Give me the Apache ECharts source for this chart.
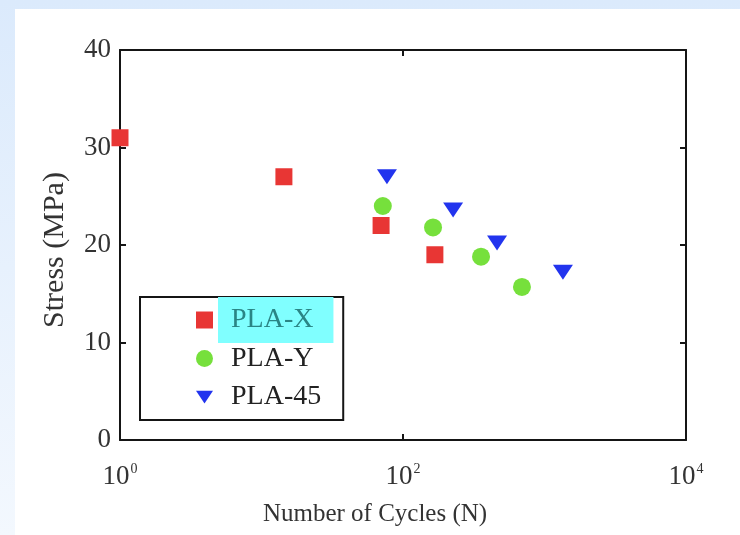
<!DOCTYPE html>
<html><head><meta charset="utf-8">
<script src="https://cdn.jsdelivr.net/npm/echarts@6/dist/echarts.min.js"></script>
<style>
html,body{margin:0;padding:0;}
body{width:740px;height:535px;position:relative;background:linear-gradient(to bottom,#dbeafc,#f3f8fe);overflow:hidden;}
#panel{position:absolute;left:15px;top:9px;right:0;bottom:0;background:#fff;}
#chart{position:absolute;left:0;top:0;width:740px;height:535px;}
</style></head>
<body><div id="panel"></div><div id="chart"></div>
<script>
const seriesNames = ['PLA-X', 'PLA-Y', 'PLA-45'];
const plaX = [[1, 31], [14.4, 27], [70, 22], [168, 19]];
const plaY = [[72, 24], [163, 21.8], [356, 18.8], [693, 15.7]];
const pla45 = [[77, 27], [226, 23.6], [462, 20.2], [1350, 17.2]];
const yTicks = [0, 10, 20, 30, 40];
const xTickExponents = [0, 2, 4];

const serif = '"Liberation Serif", "DejaVu Serif", serif';
const chart = echarts.init(document.getElementById('chart'), null, {renderer: 'canvas'});
const axisLine = {show: true, onZero: false, lineStyle: {color: '#151515', width: 2}};
const tick = {show: true, inside: true, length: 6, lineStyle: {color: '#151515', width: 2}};
const xLabel = {
  fontFamily: serif, color: '#333', margin: 22,
  formatter: v => '{b|10}{s|' + Math.round(Math.log10(v)) + '}',
  rich: {
    b: {fontFamily: serif, fontSize: 27, color: '#333'},
    s: {fontFamily: serif, fontSize: 14, color: '#333', verticalAlign: 'bottom', padding: [0, 0, 16, 1]}
  }
};
const xBase = {
  type: 'log', logBase: 10, min: Math.pow(10, xTickExponents[0]), max: Math.pow(10, xTickExponents[xTickExponents.length - 1]),
  interval: 2, axisLine: axisLine, axisTick: tick,
  splitLine: {show: false}, minorTick: {show: false}
};
const yBase = {
  type: 'value', min: yTicks[0], max: yTicks[yTicks.length - 1], interval: 10,
  axisLine: axisLine, axisTick: tick,
  splitLine: {show: false}
};
const legendRich = {
  n: {fontFamily: serif, fontSize: 28, color: '#222', lineHeight: 30, padding: [9, 20, 9, 13]},
  hl: {fontFamily: serif, fontSize: 28, color: '#2a8585', lineHeight: 30, padding: [9, 20, 9, 13], backgroundColor: '#80ffff'}
};
chart.setOption({
  animation: false,
  grid: {left: 120, top: 50, right: 54, bottom: 95, containLabel: false},
  xAxis: [
    Object.assign({}, xBase, {
      position: 'bottom', axisLabel: xLabel,
      name: 'Number of Cycles (N)', nameLocation: 'middle', nameGap: 62,
      nameTextStyle: {fontFamily: serif, fontSize: 25, color: '#333', padding: [0, 56, 0, 0]}
    }),
    Object.assign({}, xBase, {position: 'top', axisLabel: {show: false}})
  ],
  yAxis: [
    Object.assign({}, yBase, {
      position: 'left',
      axisLabel: {fontFamily: serif, fontSize: 27, color: '#333', margin: 9},
      name: 'Stress (MPa)', nameLocation: 'middle', nameGap: 50,
      nameTextStyle: {fontFamily: serif, fontSize: 30, color: '#333', padding: [0, 10, 0, 0]}
    }),
    Object.assign({}, yBase, {position: 'right', axisLabel: {show: false}})
  ],
  legend: {
    orient: 'vertical', left: 140, top: 297,
    padding: [0, 2, 0, 56], itemGap: -7.5,
    itemWidth: 17, itemHeight: 17, itemTextGap: 7,
    borderColor: '#151515', borderWidth: 2, backgroundColor: '#fff',
    data: seriesNames,
    formatter: name => (name === seriesNames[0] ? '{hl|' : '{n|') + name + '}',
    textStyle: {rich: legendRich}
  },
  series: [
    {name: seriesNames[0], type: 'scatter', data: plaX, symbol: 'rect', symbolSize: 17,
     itemStyle: {color: '#e83634', opacity: 1}},
    {name: seriesNames[1], type: 'scatter', data: plaY, symbol: 'circle', symbolSize: 18,
     itemStyle: {color: '#76e03c', opacity: 1}},
    {name: seriesNames[2], type: 'scatter', data: pla45, symbol: 'path://M0,0 L20,0 L10,15 Z', symbolSize: [20, 15],
     itemStyle: {color: '#2234ee', opacity: 1}}
  ]
});
</script></body></html>
